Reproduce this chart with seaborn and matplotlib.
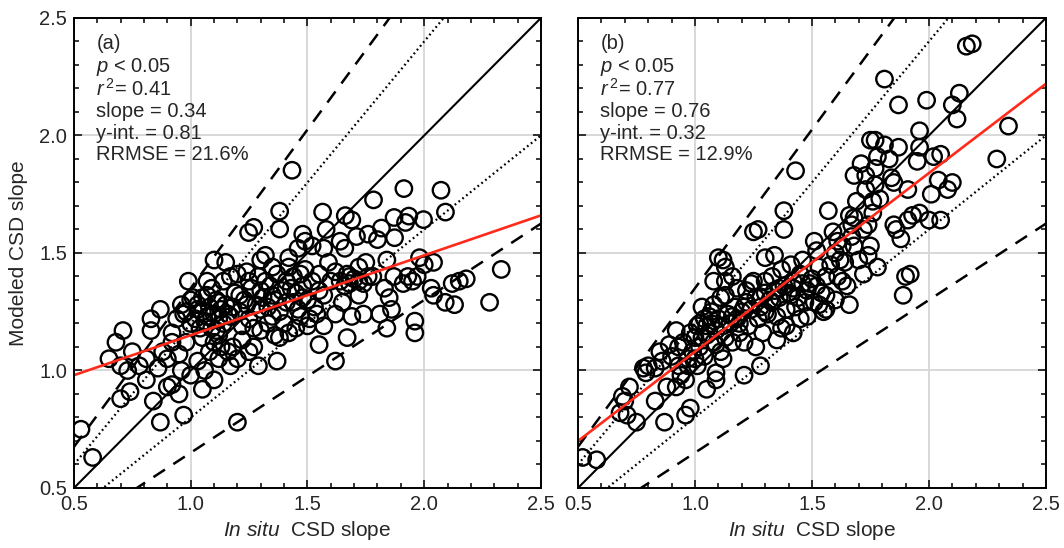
import matplotlib
matplotlib.use("Agg")
import matplotlib.pyplot as plt
from matplotlib.ticker import MultipleLocator, FormatStrFormatter
import numpy as np
import pandas as pd
import seaborn as sns

# ---- panel (a): in situ vs. modeled CSD slope ----
a_x = [1.434, 1.913, 2.072, 1.783, 2.091, 1.565, 1.662, 1.381, 1.381, 1.27, 1.248, 1.871, 1.934,
       1.997, 1.92, 1.817, 1.873, 1.76, 1.80, 1.69, 1.71, 1.58, 1.64, 1.66, 1.49, 1.52, 1.57,
       1.98, 2.04, 2.00, 2.33, 2.28, 2.18, 2.15, 2.12, 2.09, 2.13, 2.03, 2.04, 1.97, 1.93, 1.91,
       1.95, 1.87, 1.84, 1.75, 1.78, 1.83, 1.85, 1.86, 1.81, 1.84, 1.96, 1.96, 1.74, 1.69, 1.67,
       1.62, 1.62, 1.65, 1.72, 1.67, 1.62, 1.60, 1.68, 1.72, 1.59, 1.55, 1.57, 1.54, 1.55, 1.57,
       1.50, 1.48, 1.47, 1.42, 1.41, 1.44, 1.47, 1.42, 1.38, 1.37, 1.35, 1.35, 1.37, 1.32, 1.32,
       1.30, 1.30, 1.30, 1.30, 1.29, 1.27, 1.25, 1.24, 1.22, 1.21, 1.20, 1.20, 1.18, 1.17, 1.17,
       1.15, 1.14, 1.12, 1.11, 1.10, 1.10, 1.08, 1.07, 1.05, 1.05, 1.05, 1.07, 1.03, 1.03, 1.01,
       1.00, 0.99, 0.98, 0.97, 0.97, 0.95, 0.95, 0.92, 0.92, 0.90, 0.88, 0.87, 0.87, 0.86, 0.84,
       0.83, 0.83, 0.81, 0.81, 0.78, 0.75, 0.74, 0.73, 0.71, 0.70, 0.70, 0.68, 0.65, 0.58, 0.53,
       1.05, 1.06, 1.08, 1.09, 1.10, 1.11, 1.12, 1.13, 1.14, 1.15, 1.16, 1.07, 1.09, 1.12, 1.04,
       1.02, 1.10, 1.13, 1.18, 1.19, 1.21, 1.23, 1.25, 1.26, 1.28, 1.31, 1.33, 1.34, 1.36, 1.38,
       1.39, 1.41, 1.43, 1.44, 1.45, 1.46, 1.48, 1.49, 1.50, 1.52, 1.53, 1.55, 1.27, 1.33, 1.40,
       1.45, 1.51, 1.36, 1.22, 1.17, 1.24, 1.29, 1.35, 1.42, 1.46, 1.48, 1.64, 1.66, 1.68, 1.70,
       1.74, 1.76, 1.72, 0.96, 0.98, 1.00, 1.03, 0.94, 0.92, 0.90, 0.96, 1.00, 1.06, 1.12, 1.16,
       1.20, 1.25]
a_y = [1.852, 1.774, 1.767, 1.726, 1.674, 1.674, 1.659, 1.678, 1.602, 1.609, 1.587, 1.651, 1.657,
       1.642, 1.63, 1.606, 1.565, 1.58, 1.557, 1.64, 1.57, 1.60, 1.55, 1.52, 1.55, 1.53, 1.52,
       1.48, 1.46, 1.45, 1.43, 1.29, 1.39, 1.38, 1.37, 1.29, 1.28, 1.35, 1.32, 1.40, 1.40, 1.37,
       1.38, 1.40, 1.47, 1.46, 1.40, 1.35, 1.31, 1.26, 1.24, 1.18, 1.21, 1.16, 1.24, 1.23, 1.14,
       1.04, 1.24, 1.29, 1.32, 1.41, 1.42, 1.38, 1.37, 1.38, 1.46, 1.41, 1.32, 1.24, 1.11, 1.19,
       1.19, 1.31, 1.41, 1.44, 1.38, 1.29, 1.23, 1.16, 1.14, 1.04, 1.23, 1.32, 1.41, 1.38, 1.49,
       1.47, 1.34, 1.26, 1.17, 1.02, 1.10, 1.38, 1.28, 1.19, 1.32, 1.41, 0.78, 1.10, 1.23, 1.02,
       1.46, 1.38, 1.29, 1.17, 1.47, 0.96, 1.08, 1.23, 1.31, 1.14, 0.92, 1.38, 1.26, 1.04, 1.31,
       1.20, 1.38, 1.12, 0.81, 1.24, 0.90, 1.07, 1.16, 0.94, 0.93, 1.08, 0.78, 1.26, 1.01, 0.87,
       1.22, 1.17, 1.05, 0.96, 1.02, 1.08, 0.91, 1.00, 1.17, 0.88, 1.02, 1.12, 1.05, 0.63, 0.75,
       1.25, 1.21, 1.27, 1.18, 1.24, 1.30, 1.22, 1.26, 1.20, 1.28, 1.24, 1.32, 1.35, 1.15, 1.18,
       1.22, 1.12, 1.10, 1.27, 1.33, 1.25, 1.30, 1.22, 1.35, 1.28, 1.31, 1.27, 1.36, 1.30, 1.25,
       1.34, 1.29, 1.35, 1.40, 1.33, 1.26, 1.36, 1.43, 1.30, 1.38, 1.27, 1.34, 1.18, 1.20, 1.20,
       1.18, 1.22, 1.15, 1.13, 1.40, 1.42, 1.40, 1.44, 1.48, 1.52, 1.58, 1.38, 1.36, 1.40, 1.39,
       1.37, 1.40, 1.44, 1.28, 1.25, 1.30, 1.28, 1.22, 1.12, 1.05, 1.00, 0.98, 1.00, 1.05, 1.08,
       1.05, 1.08]

# ---- panel (b): in situ vs. modeled CSD slope (revised model) ----
b_x = [2.185, 2.16, 1.81, 1.87, 1.99, 2.13, 2.10, 2.12, 2.34, 2.29, 1.96, 1.96, 2.02, 2.05, 1.95,
       1.43, 1.75, 1.77, 1.81, 1.87, 1.78, 1.83, 1.71, 1.77, 1.68, 1.73, 1.84, 1.85, 1.77, 1.73,
       1.91, 2.04, 2.10, 2.08, 2.01, 1.79, 1.76, 1.69, 1.57, 1.66, 1.68, 1.67, 1.74, 1.85, 1.91,
       1.93, 1.96, 2.00, 2.05, 1.88, 1.86, 1.38, 1.38, 1.25, 1.27, 1.59, 1.61, 1.63, 1.68, 1.75,
       1.74, 1.64, 1.51, 1.52, 1.34, 1.30, 1.72, 1.78, 1.92, 1.90, 1.89, 1.66, 1.61, 1.63, 1.56,
       1.53, 1.49, 1.45, 1.42, 1.41, 1.36, 1.33, 1.30, 1.30, 1.28, 1.25, 1.22, 1.21, 1.19, 1.16,
       1.16, 1.13, 1.10, 1.12, 1.13, 1.11, 1.08, 1.08, 1.06, 1.05, 1.03, 1.09, 1.12, 1.09, 1.09,
       1.21, 1.28, 1.26, 1.35, 1.39, 1.42, 1.48, 1.51, 1.56, 1.05, 1.01, 0.99, 0.96, 0.98, 0.96,
       0.92, 0.88, 0.87, 0.92, 0.89, 0.85, 0.83, 0.83, 0.80, 0.79, 0.78, 0.75, 0.72, 0.70, 0.69,
       0.68, 0.71, 0.52, 0.58, 0.93, 1.00, 1.02, 1.03,
       1.05, 1.07, 1.09, 1.10, 1.12, 1.14, 1.15, 1.17, 1.18, 1.20, 1.22, 1.24, 1.26, 1.28, 1.30,
       1.32, 1.34, 1.36, 1.38, 1.40, 1.42, 1.44, 1.46, 1.48, 1.50, 1.52, 1.54, 1.56, 1.58, 1.60,
       1.62, 1.08, 1.11, 1.13, 1.16, 1.19, 1.23, 1.27, 1.31, 1.35, 1.39, 1.43, 1.47, 1.02, 1.00,
       0.97, 0.94, 1.04, 1.13, 1.18, 1.24, 1.33, 1.37, 1.41, 1.46, 1.53, 1.21, 1.29, 1.37, 1.45,
       1.55, 1.60, 1.65, 1.70, 1.67, 1.72, 1.76,
       0.86, 0.90, 0.95, 0.98, 1.01, 1.04, 1.07, 0.93, 0.97, 1.06]
b_y = [2.39, 2.38, 2.24, 2.13, 2.15, 2.18, 2.13, 2.07, 2.04, 1.90, 2.02, 1.95, 1.91, 1.92, 1.89,
       1.85, 1.98, 1.98, 1.96, 1.95, 1.91, 1.90, 1.88, 1.86, 1.83, 1.83, 1.82, 1.80, 1.79, 1.77,
       1.77, 1.81, 1.80, 1.77, 1.75, 1.73, 1.72, 1.72, 1.68, 1.66, 1.65, 1.62, 1.62, 1.62, 1.64,
       1.66, 1.67, 1.64, 1.64, 1.56, 1.60, 1.68, 1.60, 1.59, 1.60, 1.59, 1.55, 1.53, 1.53, 1.53,
       1.49, 1.46, 1.55, 1.51, 1.49, 1.48, 1.41, 1.44, 1.41, 1.40, 1.32, 1.28, 1.40, 1.38, 1.32,
       1.28, 1.37, 1.41, 1.38, 1.32, 1.35, 1.29, 1.38, 1.25, 1.31, 1.38, 1.34, 1.27, 1.20, 1.23,
       1.40, 1.44, 1.48, 1.47, 1.38, 1.31, 1.38, 1.28, 1.23, 1.19, 1.14, 1.11, 1.05, 0.99, 0.96,
       0.98, 1.02, 1.10, 1.13, 1.19, 1.16, 1.23, 1.29, 1.26, 0.92, 1.02, 1.08, 0.96, 0.84, 0.81,
       0.93, 0.93, 0.78, 1.17, 1.11, 1.08, 0.87, 1.01, 1.02, 0.99, 1.01, 0.78, 0.93, 0.87, 0.89,
       0.82, 0.81, 0.63, 0.62, 1.10, 1.14, 1.20, 1.27,
       1.15, 1.20, 1.17, 1.22, 1.19, 1.24, 1.20, 1.27, 1.22, 1.25, 1.29, 1.26, 1.31, 1.27, 1.33,
       1.30, 1.34, 1.31, 1.36, 1.33, 1.35, 1.31, 1.37, 1.34, 1.39, 1.36, 1.33, 1.40, 1.45, 1.50,
       1.47, 1.12, 1.08, 1.14, 1.12, 1.16, 1.19, 1.22, 1.24, 1.23, 1.26, 1.27, 1.29, 1.10, 1.05,
       1.02, 0.98, 1.06, 1.32, 1.35, 1.37, 1.40, 1.43, 1.45, 1.47, 1.44, 1.12, 1.16, 1.18, 1.22,
       1.25, 1.30, 1.36, 1.47, 1.57, 1.60, 1.67,
       1.04, 1.06, 1.12, 1.16, 1.19, 1.22, 1.25, 1.02, 1.05, 1.16]

# regression statistics shown in each panel
panel_tags = ["(a)", "(b)"]
r2_values = [0.41, 0.77]
fit_slopes = [0.34, 0.76]
fit_intercepts = [0.81, 0.32]
rrmse_values = [21.6, 12.9]

# reference envelopes around the 1:1 line
inner_band = 0.20
outer_band = 0.35

sns.set_style("white")
plt.rcParams["font.family"] = ["Liberation Sans", "DejaVu Sans"]
plt.rcParams["mathtext.fontset"] = "custom"
plt.rcParams["mathtext.rm"] = "Liberation Sans"
plt.rcParams["mathtext.it"] = "Liberation Sans:italic"

text_color = "#262626"
fs = 14.5

fig = plt.figure(figsize=(10.64, 5.48), dpi=100)
ax_a = fig.add_axes([0.0695, 0.1095, 0.4389, 0.8577])
ax_b = fig.add_axes([0.5432, 0.1095, 0.4398, 0.8577])

datasets = [pd.DataFrame({"insitu": a_x, "modeled": a_y}),
            pd.DataFrame({"insitu": b_x, "modeled": b_y})]

line_x = np.array([0.5, 2.5])
for i, (ax, df) in enumerate(zip([ax_a, ax_b], datasets)):
    ax.set_xlim(0.5, 2.5)
    ax.set_ylim(0.5, 2.5)
    ax.grid(True, which="major", color="#d8d8d8", linewidth=1.4, zorder=0)
    ax.set_axisbelow(True)

    # envelopes and 1:1 line
    ax.plot(line_x, line_x * (1 + outer_band), color="black", lw=1.8,
            linestyle=(0, (5.5, 4)), zorder=2)
    ax.plot(line_x, line_x * (1 - outer_band), color="black", lw=1.8,
            linestyle=(0, (5.5, 4)), zorder=2)
    ax.plot(line_x, line_x * (1 + inner_band), color="black", lw=1.6,
            linestyle=(0, (0.8, 1.4)), zorder=2)
    ax.plot(line_x, line_x * (1 - inner_band), color="black", lw=1.6,
            linestyle=(0, (0.8, 1.4)), zorder=2)
    ax.plot(line_x, line_x, color="black", lw=1.5, zorder=2)

    sns.scatterplot(data=df, x="insitu", y="modeled", ax=ax, marker="o", s=140,
                    facecolor="none", edgecolor="black", linewidth=1.7, zorder=3,
                    legend=False)

    # linear fit
    ax.plot(line_x, fit_slopes[i] * line_x + fit_intercepts[i], color="#ff2a1a",
            lw=1.9, zorder=4)

    # annotation block
    lines = [panel_tags[i],
             r"$\mathit{p}$ < 0.05",
             r"$\mathit{r}^{\,2}$= " + f"{r2_values[i]:.2f}",
             f"slope = {fit_slopes[i]:.2f}",
             f"y-int. = {fit_intercepts[i]:.2f}",
             f"RRMSE = {rrmse_values[i]:.1f}%"]
    ys = [0.945, 0.896, 0.849, 0.802, 0.755, 0.709]
    for txt, yy in zip(lines, ys):
        ax.text(0.048, yy, txt, transform=ax.transAxes, fontsize=fs,
                color=text_color, va="center", ha="left", zorder=5)

    ax.xaxis.set_major_locator(MultipleLocator(0.5))
    ax.yaxis.set_major_locator(MultipleLocator(0.5))
    ax.xaxis.set_minor_locator(MultipleLocator(0.1))
    ax.yaxis.set_minor_locator(MultipleLocator(0.1))
    ax.xaxis.set_major_formatter(FormatStrFormatter("%.1f"))
    ax.yaxis.set_major_formatter(FormatStrFormatter("%.1f"))
    ax.tick_params(which="both", direction="in", top=True, right=True,
                   bottom=True, left=True, color="black", width=1.1)
    ax.tick_params(which="major", length=5.5, labelsize=fs, labelcolor=text_color, pad=5)
    ax.tick_params(which="minor", length=3.5)
    for sp in ax.spines.values():
        sp.set_color("black")
        sp.set_linewidth(1.4)
        sp.set_zorder(6)

    ax.set_xlabel(r"$\mathit{In\ situ}$  CSD slope", fontsize=fs + 0.5,
                  color=text_color, labelpad=4)
    ax.set_ylabel("")

ax_a.set_ylabel("Modeled CSD slope", fontsize=fs + 0.5, color=text_color, labelpad=8)
ax_b.tick_params(axis="y", which="both", labelleft=False)

fig.savefig("out.png", dpi=100)
